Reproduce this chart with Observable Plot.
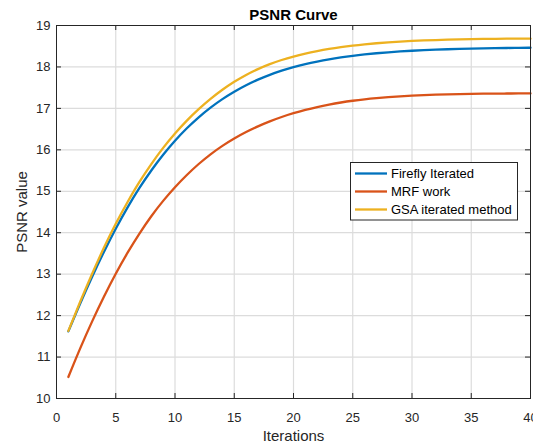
<!DOCTYPE html>
<html><head><meta charset="utf-8">
<script src="https://cdn.jsdelivr.net/npm/d3@7"></script>
<script src="https://cdn.jsdelivr.net/npm/@observablehq/plot@0.6"></script>
<style>html,body{margin:0;padding:0;background:#fff;overflow:hidden}</style>
</head><body><div id="chart"></div>
<script>
const iterations = [1,2,3,4,5,6,7,8,9,10,11,12,13,14,15,16,17,18,19,20,21,22,23,24,25,26,27,28,29,30,31,32,33,34,35,36,37,38,39,40];
const firefly = [11.62,12.294,12.934,13.536,14.096,14.611,15.080,15.502,15.882,16.220,16.521,16.786,17.019,17.224,17.402,17.558,17.693,17.809,17.909,17.995,18.068,18.130,18.184,18.230,18.269,18.302,18.330,18.354,18.374,18.391,18.405,18.417,18.427,18.435,18.442,18.448,18.453,18.457,18.460,18.463];
const mrf = [10.52,11.21,11.855,12.455,13.01,13.518,13.98,14.398,14.768,15.098,15.393,15.658,15.892,16.096,16.274,16.43,16.567,16.687,16.792,16.884,16.964,17.033,17.092,17.142,17.184,17.219,17.248,17.272,17.292,17.308,17.321,17.331,17.339,17.345,17.35,17.354,17.357,17.359,17.361,17.362];
const gsa = [11.63,12.334,13.004,13.636,14.216,14.741,15.225,15.657,16.047,16.395,16.706,16.981,17.229,17.449,17.642,17.808,17.948,18.067,18.167,18.251,18.322,18.382,18.434,18.478,18.515,18.546,18.572,18.594,18.612,18.627,18.639,18.649,18.657,18.664,18.670,18.675,18.679,18.682,18.683,18.683];
const seriesNames = ["Firefly Iterated", "MRF work", "GSA iterated method"];
const seriesColors = ["#0072BD", "#D95319", "#EDB120"];
const xTicks = [0,5,10,15,20,25,30,35,40];
const yTicks = [10,11,12,13,14,15,16,17,18,19];
const titleText = "PSNR Curve";
const xLabel = "Iterations";
const yLabel = "PSNR value";

const W = 533, H = 443, mL = 56, mR = 3, mT = 25, mB = 45;
const innerW = W - mL - mR, innerH = H - mT - mB;
const axisColor = "#262626";
const fontFam = "'Liberation Sans', Arial, sans-serif";
const rows = (vals, name) => iterations.map((it, i) => ({iter: it, value: vals[i], series: name}));
const seriesData = [firefly, mrf, gsa].map((v, k) => rows(v, seriesNames[k]));

const chart = Plot.plot({
  width: W, height: H,
  marginLeft: mL, marginRight: mR, marginTop: mT, marginBottom: mB,
  style: {fontFamily: fontFam, fontSize: "13px", color: axisColor, background: "#fff"},
  x: {domain: [0, 40], ticks: xTicks, tickSize: 0, tickPadding: 14, label: null},
  y: {domain: [10, 19], ticks: yTicks, tickSize: 0, tickPadding: 6, label: null},
  marks: [
    Plot.ruleX(xTicks.slice(1, -1), {x: d => d, stroke: "#dcdcdc", strokeWidth: 1.2}),
    Plot.ruleY(yTicks.slice(1, -1), {y: d => d, stroke: "#dcdcdc", strokeWidth: 1.2}),
    ...seriesData.map((d, k) => Plot.line(d, {x: "iter", y: "value", stroke: seriesColors[k], strokeWidth: 2.3, curve: "monotone-x"})),
    Plot.tickX(xTicks, {x: d => d, insetTop: innerH - 5, stroke: axisColor}),
    Plot.tickX(xTicks, {x: d => d, insetBottom: innerH - 5, stroke: axisColor}),
    Plot.tickY(yTicks, {y: d => d, insetRight: innerW - 5, stroke: axisColor}),
    Plot.tickY(yTicks, {y: d => d, insetLeft: innerW - 5, stroke: axisColor}),
    Plot.frame({stroke: axisColor, strokeWidth: 1}),
    Plot.text([titleText], {frameAnchor: "top", lineAnchor: "bottom", dy: -6, fontSize: 15, fontWeight: "bold", fill: "#000"}),
    Plot.text([xLabel], {frameAnchor: "bottom", lineAnchor: "bottom", dy: 42, fontSize: 15, fill: axisColor}),
    Plot.text([yLabel], {frameAnchor: "left", textAnchor: "middle", lineAnchor: "middle", rotate: -90, dx: -34, fontSize: 15, fill: axisColor})
  ]
});
document.getElementById("chart").appendChild(chart);

// Legend (MATLAB-style boxed legend inside the axes)
const svg = d3.select(chart);
const lg = svg.append("g").attr("font-family", fontFam).attr("font-size", 13).attr("text-anchor", "start");
lg.append("rect").attr("x", 350.5).attr("y", 162.5).attr("width", 167).attr("height", 57.5)
  .attr("fill", "#fff").attr("stroke", axisColor).attr("stroke-width", 1);
seriesNames.forEach((name, k) => {
  const cy = 173.5 + k * 18;
  lg.append("line").attr("x1", 355).attr("x2", 387).attr("y1", cy).attr("y2", cy)
    .attr("stroke", seriesColors[k]).attr("stroke-width", 2.3);
  lg.append("text").attr("x", 391).attr("y", cy + 4.6).attr("text-anchor", "start").attr("fill", "#000").text(name);
});
</script>
</body></html>
